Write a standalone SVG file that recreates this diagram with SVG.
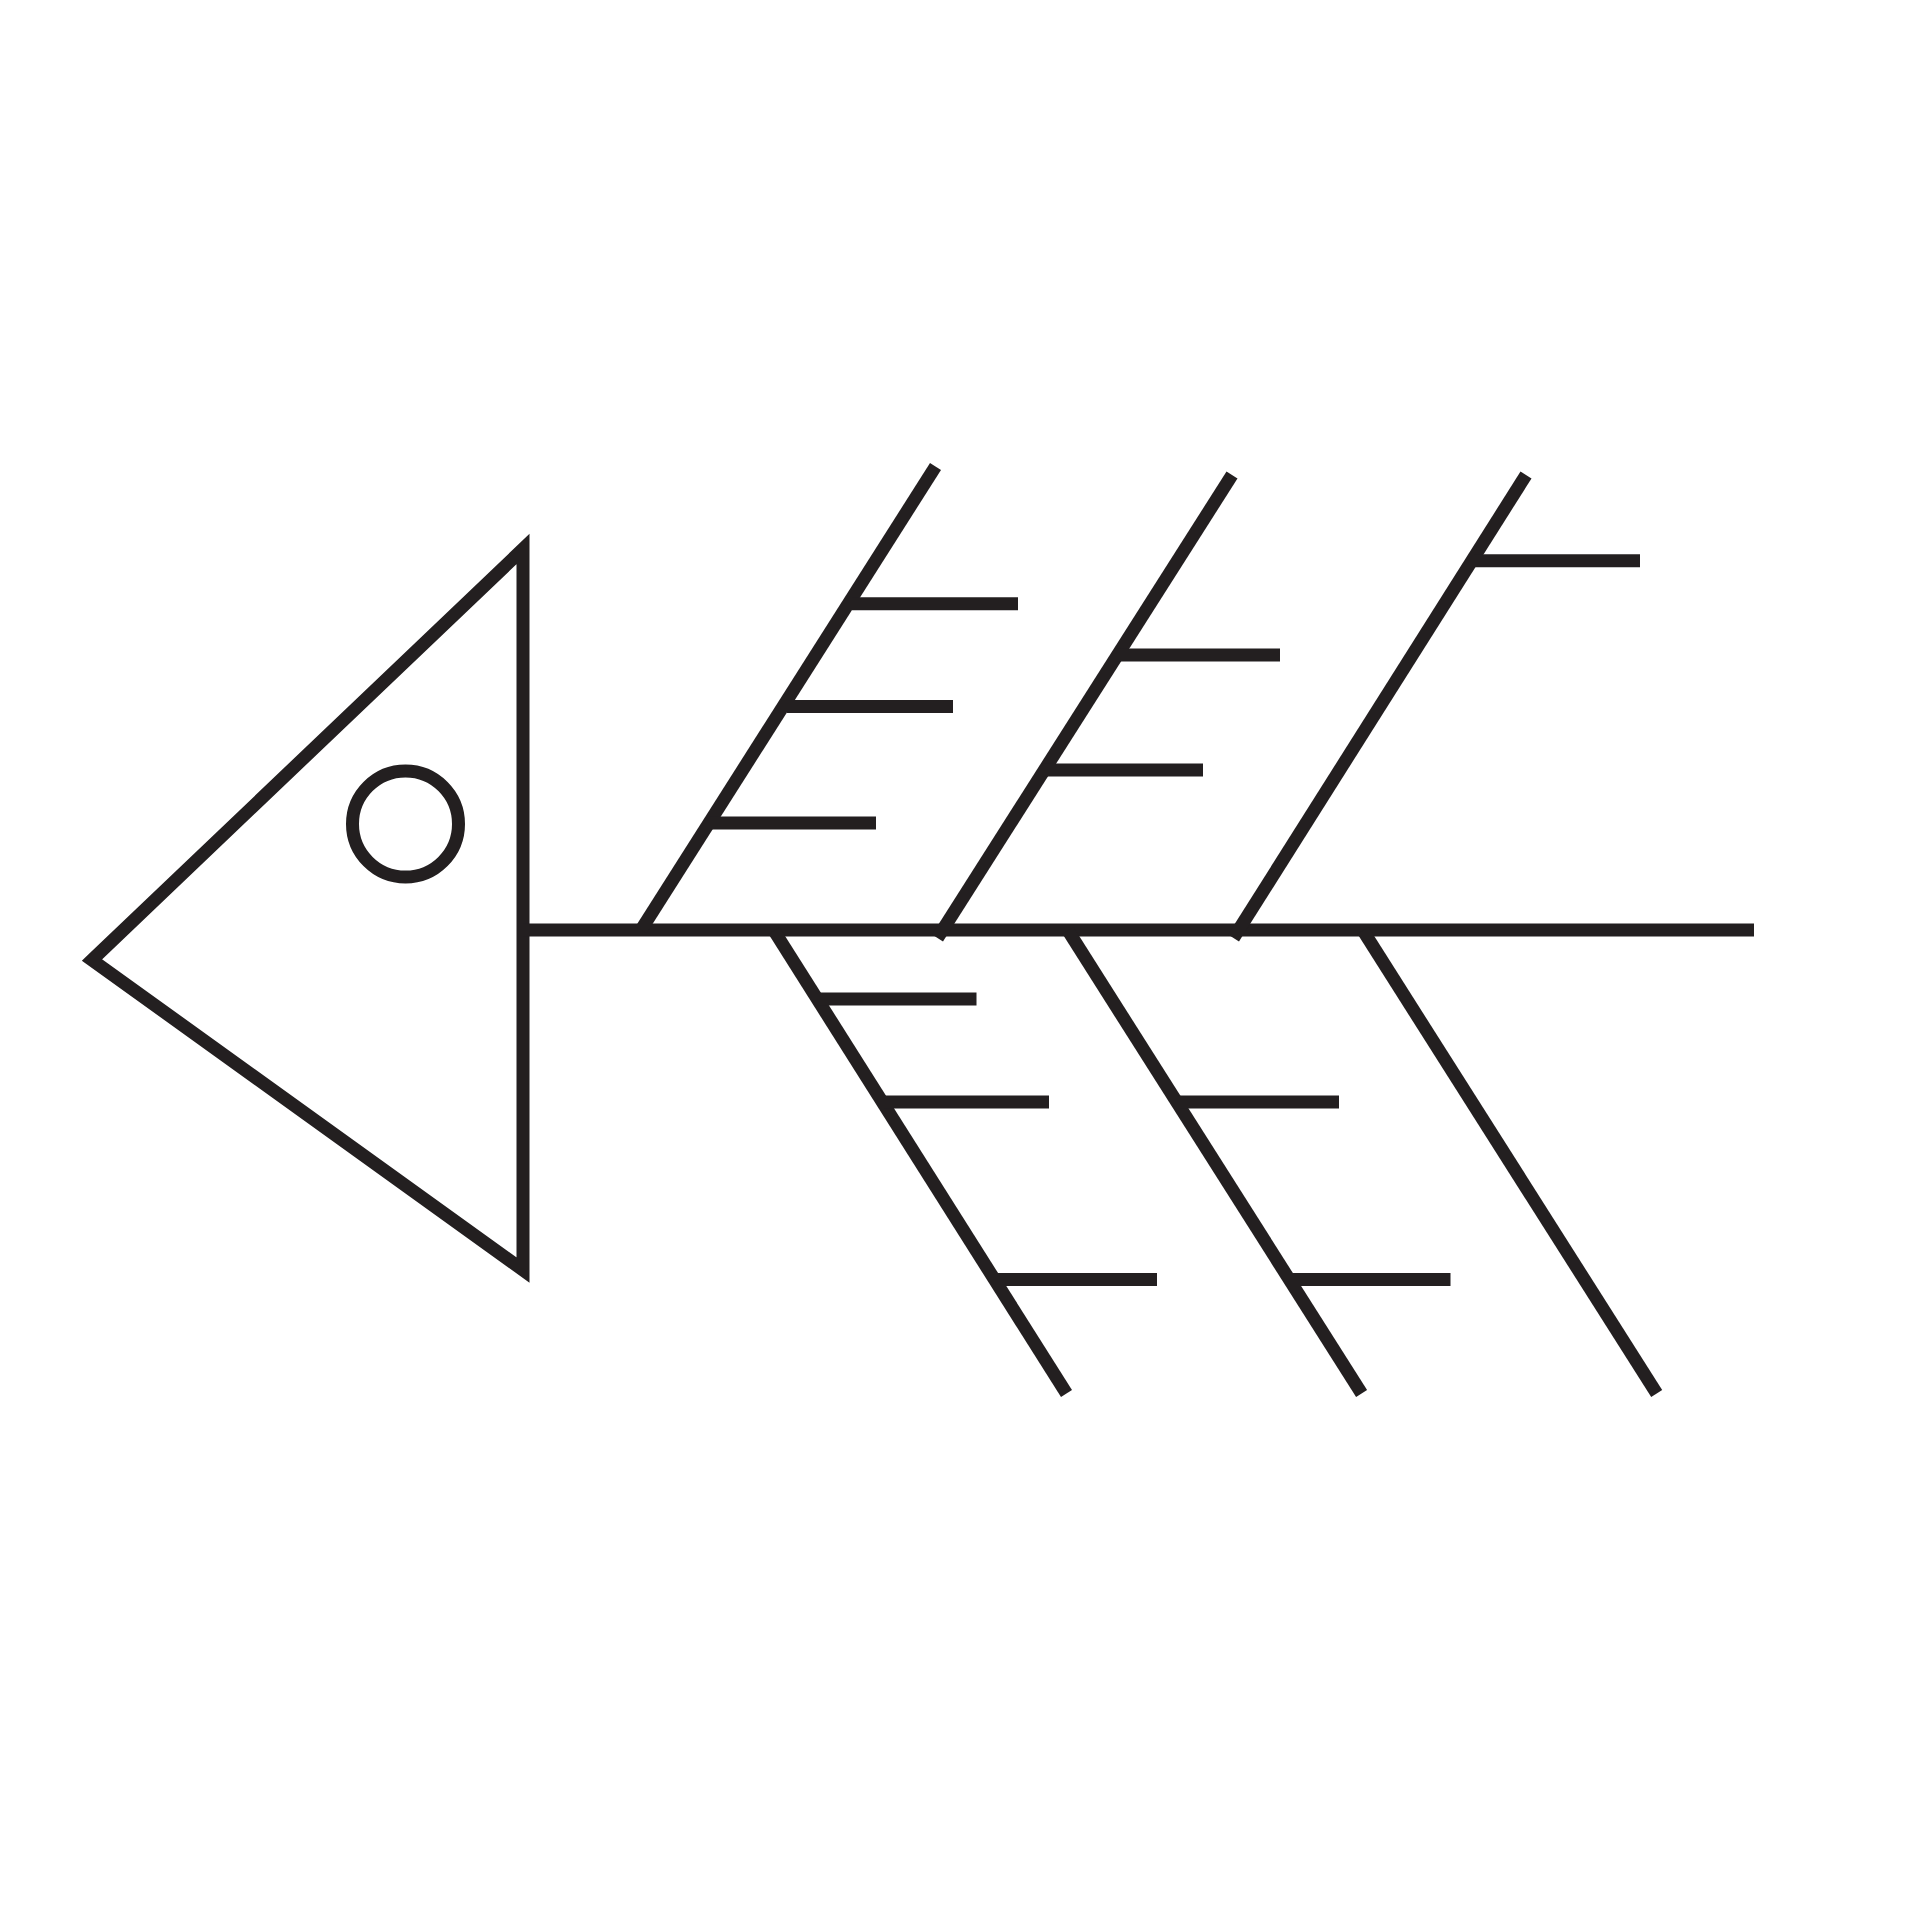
<svg xmlns="http://www.w3.org/2000/svg" width="1920" height="1920" viewBox="0 0 1920 1920">
<style>
.s{fill:none;stroke:#231f20;stroke-width:13;stroke-linecap:butt}
</style>
<rect width="1920" height="1920" fill="#ffffff"/>
<g id="head">
<polygon class="s" points="92,960 523,549 523,1270"/>
<circle class="s" cx="405.5" cy="824" r="53"/>
</g>
<g id="connectors">
<line id="spine" class="s" x1="523" y1="930" x2="1754" y2="930"/>
<g id="bone1">
<line class="s" x1="641" y1="930" x2="935.5" y2="466.5"/>
<line class="s" x1="852" y1="603.7" x2="1018" y2="603.7"/>
<line class="s" x1="787" y1="706.5" x2="953" y2="706.5"/>
<line class="s" x1="710" y1="823" x2="876" y2="823"/>
</g>
<g id="bone2">
<line class="s" x1="937.5" y1="938" x2="1232" y2="475"/>
<line class="s" x1="1117" y1="655" x2="1280" y2="655"/>
<line class="s" x1="1042" y1="770" x2="1203" y2="770"/>
</g>
<g id="bone3">
<line class="s" x1="1233.5" y1="938" x2="1526" y2="475"/>
<line class="s" x1="1474" y1="560.8" x2="1640" y2="560.8"/>
</g>
<g id="bone4">
<line class="s" x1="774" y1="930.6" x2="1066.5" y2="1393.5"/>
<line class="s" x1="818" y1="999" x2="976.5" y2="999"/>
<line class="s" x1="884" y1="1102" x2="1049" y2="1102"/>
<line class="s" x1="998" y1="1279.6" x2="1157" y2="1279.6"/>
</g>
<g id="bone5">
<line class="s" x1="1068" y1="930.6" x2="1361.6" y2="1393.5"/>
<line class="s" x1="1179" y1="1102" x2="1339" y2="1102"/>
<line class="s" x1="1292" y1="1279.6" x2="1450.5" y2="1279.6"/>
</g>
<g id="bone6">
<line class="s" x1="1363" y1="930.6" x2="1656.7" y2="1393.5"/>
</g>
</g>
</svg>
